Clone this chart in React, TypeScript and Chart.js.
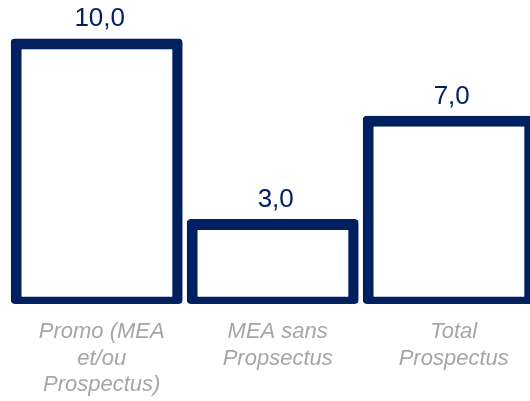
import React, { useEffect, useRef } from 'react';
import { Chart, registerables } from 'chart.js';

Chart.register(...registerables);

const categories: string[][] = [
  ['Promo (MEA', 'et/ou', 'Prospectus)'],
  ['MEA sans', 'Propsectus'],
  ['Total', 'Prospectus'],
];
const values: number[] = [10, 3, 7];
const valueLabels: string[] = ['10,0', '3,0', '7,0'];

const NAVY = '#002060';
const GRAY = '#a6a6a6';
const FAMILY = '"Liberation Sans", Arial, Helvetica, sans-serif';

export default function App() {
  const ref = useRef<HTMLCanvasElement>(null);

  useEffect(() => {
    if (!ref.current) return;
    const valuePlugin = {
      id: 'valueLabels',
      afterDatasetsDraw(chart: any) {
        const ctx = chart.ctx;
        const meta = chart.getDatasetMeta(0);
        ctx.save();
        ctx.font = `26px ${FAMILY}`;
        ctx.fillStyle = NAVY;
        ctx.textAlign = 'center';
        ctx.textBaseline = 'alphabetic';
        meta.data.forEach((bar: any, i: number) => {
          ctx.fillText(valueLabels[i], bar.x + 3, bar.y - 12);
        });
        ctx.restore();
      },
    };

    const chart = new Chart(ref.current, {
      type: 'bar',
      data: {
        labels: categories,
        datasets: [
          {
            data: values,
            backgroundColor: '#ffffff',
            borderColor: NAVY,
            borderWidth: { top: 11, left: 11, right: 10.5, bottom: 7.5 },
            borderSkipped: false,
            borderRadius: 4,
            base: -0.296,
            barPercentage: 0.977,
            categoryPercentage: 1,
          } as any,
        ],
      },
      options: {
        responsive: true,
        maintainAspectRatio: false,
        animation: false,
        layout: { padding: { left: 8.7, right: 3.3, top: 0, bottom: 0 } },
        plugins: {
          legend: { display: false },
          tooltip: { enabled: false },
        },
        scales: {
          x: {
            grid: { display: false, drawTicks: false },
            border: { display: false },
            ticks: {
              color: GRAY,
              font: { family: FAMILY, size: 22, style: 'italic', lineHeight: 1.2 },
              padding: 15,
              labelOffset: 5,
              maxRotation: 0,
              autoSkip: false,
            },
            afterFit: (s: any) => {
              s.height = 97;
            },
          },
          y: { display: false, min: -0.296, max: 11.493 },
        },
      },
      plugins: [valuePlugin],
    });
    return () => chart.destroy();
  }, []);

  return (
    <div
      style={{
        position: 'fixed',
        left: 0,
        top: 0,
        width: 530,
        height: 401,
        overflow: 'hidden',
        background: '#ffffff',
      }}
    >
      <div style={{ position: 'relative', width: 540, height: 401 }}>
        <canvas ref={ref} />
      </div>
    </div>
  );
}
